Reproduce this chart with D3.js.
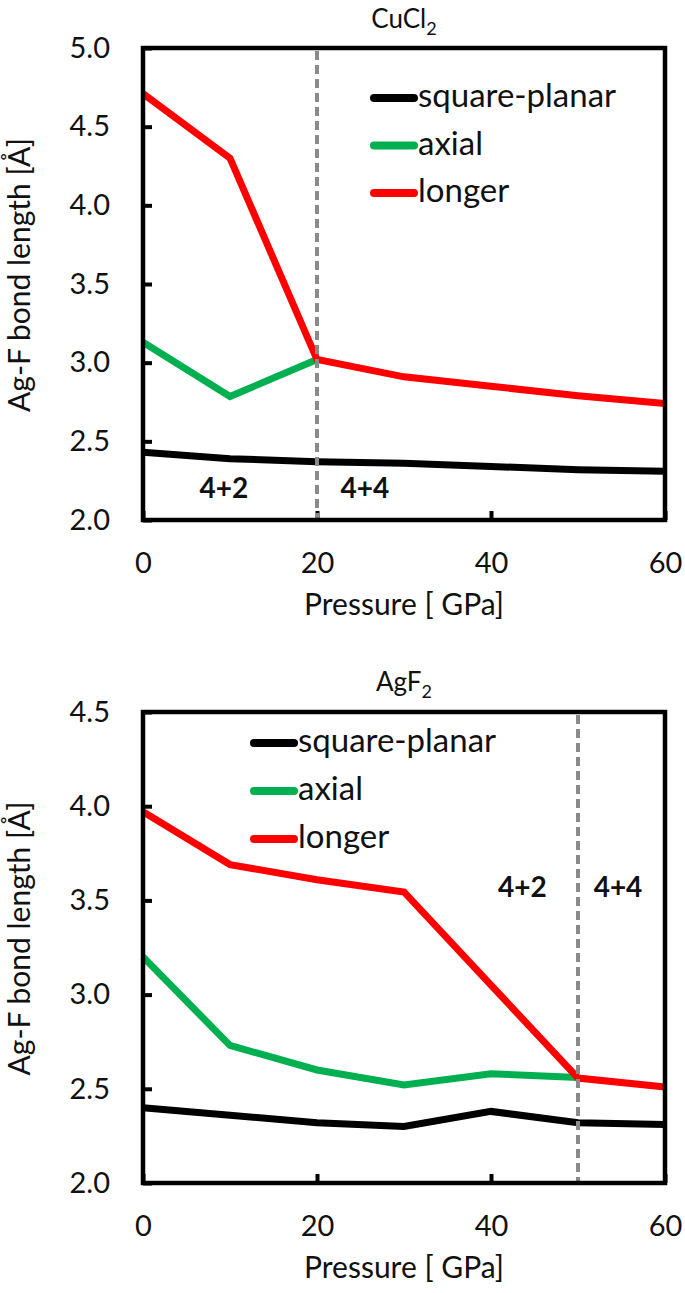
<!DOCTYPE html>
<html>
<head>
<meta charset="utf-8">
<script src="https://cdn.jsdelivr.net/npm/d3@7"></script>
<style>
  html, body { margin: 0; padding: 0; background: #fff; }
  svg { display: block; }
  text { font-family: Lato, "Open Sans", sans-serif; fill: #111; }
</style>
</head>
<body>
<svg id="chart" width="685" height="1293"></svg>
<script>
// ---- data ----
const seriesNames = ["square-planar", "axial", "longer"];
const pressure = [0, 10, 20, 30, 40, 50, 60];
const xTicks = [0, 20, 40, 60];

const cuclTitle = "CuCl";
const cuclYTicks = [2.0, 2.5, 3.0, 3.5, 4.0, 4.5, 5.0];
const cuclSquare = [2.43, 2.39, 2.37, 2.36, 2.34, 2.32, 2.31];
const cuclAxial  = [3.13, 2.785, 3.02];
const cuclLonger = [4.71, 4.30, 3.02, 2.91, 2.85, 2.79, 2.74];
const cuclTransition = 20;
const cuclLabels = ["4+2", "4+4"];

const agfTitle = "AgF";
const agfYTicks = [2.0, 2.5, 3.0, 3.5, 4.0, 4.5];
const agfSquare = [2.40, 2.36, 2.32, 2.30, 2.38, 2.32, 2.31];
const agfAxial  = [3.20, 2.73, 2.60, 2.52, 2.58, 2.56];
const agfLonger = [3.97, 3.69, 3.61, 3.545, 3.05, 2.557, 2.51];
const agfTransition = 50;
const agfLabels = ["4+2", "4+4"];

const colors = ["#000000", "#00b050", "#ff0000"];

// ---- layout ----
const svg = d3.select("#chart");
const left = 143, right = 665;

const panels = [
  { title: cuclTitle, top: 48, bottom: 520, yTicks: cuclYTicks,
    series: [cuclSquare, cuclAxial, cuclLonger], trans: cuclTransition,
    labels: cuclLabels, labelPos: [[9.3, 2.14], [25.5, 2.14]],
    legend: { x: 370, y: 98, dy: 47.5 }, titleY: 28 },
  { title: agfTitle, top: 712, bottom: 1183, yTicks: agfYTicks,
    series: [agfSquare, agfAxial, agfLonger], trans: agfTransition,
    labels: agfLabels, labelPos: [[43.6, 3.52], [54.6, 3.52]],
    legend: { x: 250, y: 743, dy: 48 }, titleY: 691 }
];

panels.forEach(p => {
  const x = d3.scaleLinear().domain([0, 60]).range([left, right]);
  const y = d3.scaleLinear().domain([2.0, d3.max(p.yTicks)]).range([p.bottom, p.top]);
  const g = svg.append("g");

  // title
  const t = g.append("text").attr("x", (left + right) / 2).attr("y", p.titleY)
    .attr("text-anchor", "middle").style("font-size", "26px");
  t.append("tspan").text(p.title);
  t.append("tspan").text("2").attr("dy", 7).style("font-size", "18px");

  // axes
  const ya = g.append("g").attr("transform", `translate(${left},0)`)
    .call(d3.axisLeft(y).tickValues(p.yTicks).tickFormat(d3.format(".1f"))
      .tickSize(-9).tickPadding(33));
  const xa = g.append("g").attr("transform", `translate(0,${p.bottom})`)
    .call(d3.axisBottom(x).tickValues(xTicks).tickFormat(d3.format("d"))
      .tickSize(-9).tickPadding(32));
  [ya, xa].forEach(a => {
    a.select(".domain").remove();
    a.selectAll(".tick line").attr("stroke", "#000").attr("stroke-width", 4);
    a.selectAll(".tick text").style("font-size", "29px").attr("fill", "#111")
      .style("font-family", "Lato, 'Open Sans', sans-serif");
  });

  // axis titles
  g.append("text").attr("x", (left + right) / 2).attr("y", p.bottom + 95)
    .attr("text-anchor", "middle").style("font-size", "30px").text("Pressure [ GPa]");
  g.append("text")
    .attr("transform", `translate(30,${(p.top + p.bottom) / 2 - 9}) rotate(-90)`)
    .attr("text-anchor", "middle").style("font-size", "30px").text("Ag-F bond length [Å]");

  // lines
  const line = d3.line().x((d, i) => x(pressure[i])).y(d => y(d));
  p.series.forEach((s, k) => {
    g.append("path").datum(s).attr("d", line).attr("fill", "none")
      .attr("stroke", colors[k]).attr("stroke-width", 7)
      .attr("stroke-linejoin", "miter");
  });

  // transition dashed line
  g.append("line").attr("x1", x(p.trans)).attr("x2", x(p.trans))
    .attr("y1", p.top + 3).attr("y2", p.bottom)
    .attr("stroke", "#8a8a8a").attr("stroke-width", 4).attr("stroke-dasharray", "9,5");

  // frame
  g.append("rect").attr("x", left).attr("y", p.top)
    .attr("width", right - left).attr("height", p.bottom - p.top)
    .attr("fill", "none").attr("stroke", "#000").attr("stroke-width", 4.5);

  // region labels
  p.labels.forEach((lab, i) => {
    g.append("text").attr("x", x(p.labelPos[i][0])).attr("y", y(p.labelPos[i][1]))
      .attr("text-anchor", "middle").style("font-size", "28px").style("font-weight", "bold")
      .text(lab);
  });

  // legend
  seriesNames.forEach((n, k) => {
    const ly = p.legend.y + k * p.legend.dy;
    g.append("line").attr("x1", p.legend.x + 4).attr("x2", p.legend.x + 44)
      .attr("y1", ly).attr("y2", ly).attr("stroke", colors[k])
      .attr("stroke-width", 8).attr("stroke-linecap", "round");
    g.append("text").attr("x", p.legend.x + 48).attr("y", ly + 9)
      .style("font-size", "33px").text(n);
  });
});
</script>
</body>
</html>
